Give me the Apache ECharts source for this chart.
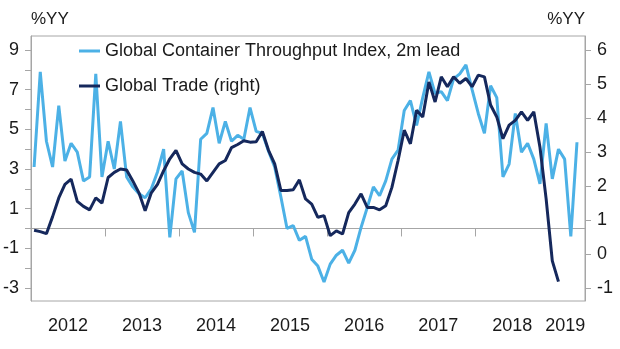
<!DOCTYPE html>
<html>
<head>
<meta charset="utf-8">
<script src="https://cdn.jsdelivr.net/npm/echarts@6/dist/echarts.min.js"></script>
<style>
html,body{margin:0;padding:0;background:#fff;}
#chart{width:620px;height:349px;}
</style>
</head>
<body>
<div id="chart"></div>
<script>
// Months counted from Jan 2012 (index 0 = Jan 2012)
var yearLabels = ['2012','2013','2014','2015','2016','2017','2018','2019'];
var seriesNames = ['Global Container Throughput Index, 2m lead', 'Global Trade (right)'];

// Global Container Throughput Index, 2m lead (%YY, left axis), monthly from Jan 2012
var throughput = [
  3.1, 7.9, 4.4, 3.1, 6.2, 3.4, 4.3, 3.85, 2.4, 2.6, 7.8, 2.6,
  4.4, 3.0, 5.4, 2.6, 2.1, 1.75, 1.55, 2.0, 2.85, 4.0, -0.45, 2.5,
  2.9, 0.8, -0.2, 4.5, 4.8, 6.1, 4.3, 5.4, 4.4, 4.7, 4.5, 6.1,
  4.9, 4.8, 3.9, 3.1, 1.6, 0.0, 0.15, -0.6, -0.4, -1.55, -1.9, -2.7,
  -1.8, -1.35, -1.1, -1.75, -1.1, 0.05, 1.05, 2.1, 1.65, 2.4, 3.5, 3.95,
  5.95, 6.45, 5.2, 6.6, 7.9, 6.8, 6.9, 6.45, 7.55, 7.8, 8.25, 7.0,
  5.8, 4.8, 7.2, 6.6, 2.6, 3.25, 5.8, 3.85, 4.3, 3.5, 2.25, 5.3,
  2.5, 4.0, 3.5, -0.4, 4.35
];

// Global Trade (%YY, right axis), monthly from Jan 2012
var globalTrade = [
  0.7, 0.66, 0.6, 1.1, 1.65, 2.05, 2.2, 1.55, 1.4, 1.3, 1.65, 1.5,
  2.25, 2.4, 2.5, 2.47, 2.15, 1.8, 1.27, 1.8, 2.05, 2.45, 2.8, 3.05,
  2.65, 2.5, 2.4, 2.35, 2.15, 2.4, 2.65, 2.75, 3.13, 3.22, 3.33, 3.29,
  3.3, 3.6, 3.05, 2.65, 1.87, 1.87, 1.89, 2.18, 1.62, 1.47, 1.08, 1.13,
  0.54, 0.68, 0.59, 1.22, 1.47, 1.77, 1.37, 1.37, 1.3, 1.42, 1.96, 2.75,
  3.64, 3.24, 4.23, 4.03, 5.06, 4.47, 5.21, 4.92, 5.21, 5.02, 5.16, 4.92,
  5.26, 5.21, 4.38, 4.03, 3.39, 3.79, 3.93, 4.18, 3.93, 4.18, 3.14, 1.62,
  -0.2, -0.81
];

var leftTicks = [-3,-2,-1,0,1,2,3,4,5,6,7,8,9];
var leftLabels = [-3,-1,1,3,5,7,9];
var rightTicks = [-1,0,1,2,3,4,5,6];

function toPoints(arr){
  return arr.map(function(v,i){ return [i + 0.5, v]; });
}
var yearTicks = yearLabels.map(function(y,i){ return i*12; });
var yearLabelPos = yearLabels.map(function(y,i){ return i === yearLabels.length-1 ? i*12 + 2.6 : i*12 + 6; });

var FONT = 'Liberation Sans, Arial, sans-serif';
var TXT = '#1a1a1a';
var chart = echarts.init(document.getElementById('chart'), null, {renderer:'canvas'});
chart.setOption({
  animation: false,
  backgroundColor: '#ffffff',
  textStyle: { fontFamily: FONT },
  grid: { left: 31, right: 35, top: 36, bottom: 48, show: true, borderColor: '#a6a6a6', borderWidth: 1, containLabel: false },
  legend: {
    left: 74, top: 37, orient: 'vertical', itemGap: 17,
    itemWidth: 21, itemHeight: 3, icon: 'rect',
    textStyle: { fontSize: 18, color: TXT, fontFamily: FONT },
    data: seriesNames
  },
  xAxis: {
    type: 'value', min: 0, max: 89.8,
    axisLine: { show: true, lineStyle: { color: '#a6a6a6' } },
    axisTick: { show: true, customValues: yearTicks, length: 8, lineStyle: { color: '#a6a6a6' } },
    axisLabel: {
      customValues: yearLabelPos, margin: 16, fontSize: 18, color: TXT, fontFamily: FONT,
      showMaxLabel: true, showMinLabel: true, hideOverlap: false,
      formatter: function(v){ return yearLabels[Math.floor(v/12)]; }
    },
    splitLine: { show: false }
  },
  yAxis: [
    {
      type: 'value', min: -3.66, max: 9.71, position: 'left',
      name: '%YY', nameLocation: 'end', nameGap: 8,
      nameTextStyle: { align: 'left', verticalAlign: 'bottom', fontSize: 17, color: TXT, fontFamily: FONT },
      axisLine: { show: true, lineStyle: { color: '#a6a6a6' } },
      axisTick: { show: true, customValues: leftTicks, length: 6, lineStyle: { color: '#a6a6a6' } },
      axisLabel: { customValues: leftLabels, margin: 12, fontSize: 18, color: TXT, fontFamily: FONT },
      splitLine: { show: false }
    },
    {
      type: 'value', min: -1.38, max: 6.41, position: 'right',
      name: '%YY', nameLocation: 'end', nameGap: 8,
      nameTextStyle: { align: 'right', verticalAlign: 'bottom', fontSize: 17, color: TXT, fontFamily: FONT },
      axisLine: { show: true, lineStyle: { color: '#a6a6a6' } },
      axisTick: { show: true, customValues: rightTicks, length: 6, lineStyle: { color: '#a6a6a6' } },
      axisLabel: { customValues: rightTicks, margin: 12, fontSize: 18, color: TXT, fontFamily: FONT },
      splitLine: { show: false }
    }
  ],
  series: [
    {
      name: seriesNames[0], type: 'line', yAxisIndex: 0, showSymbol: false,
      lineStyle: { width: 3, color: '#4cb1e6' }, itemStyle: { color: '#4cb1e6' },
      data: toPoints(throughput), z: 2
    },
    {
      name: seriesNames[1], type: 'line', yAxisIndex: 1, showSymbol: false,
      lineStyle: { width: 3, color: '#15285c' }, itemStyle: { color: '#15285c' },
      data: toPoints(globalTrade), z: 3
    }
  ]
});
</script>
</body>
</html>
